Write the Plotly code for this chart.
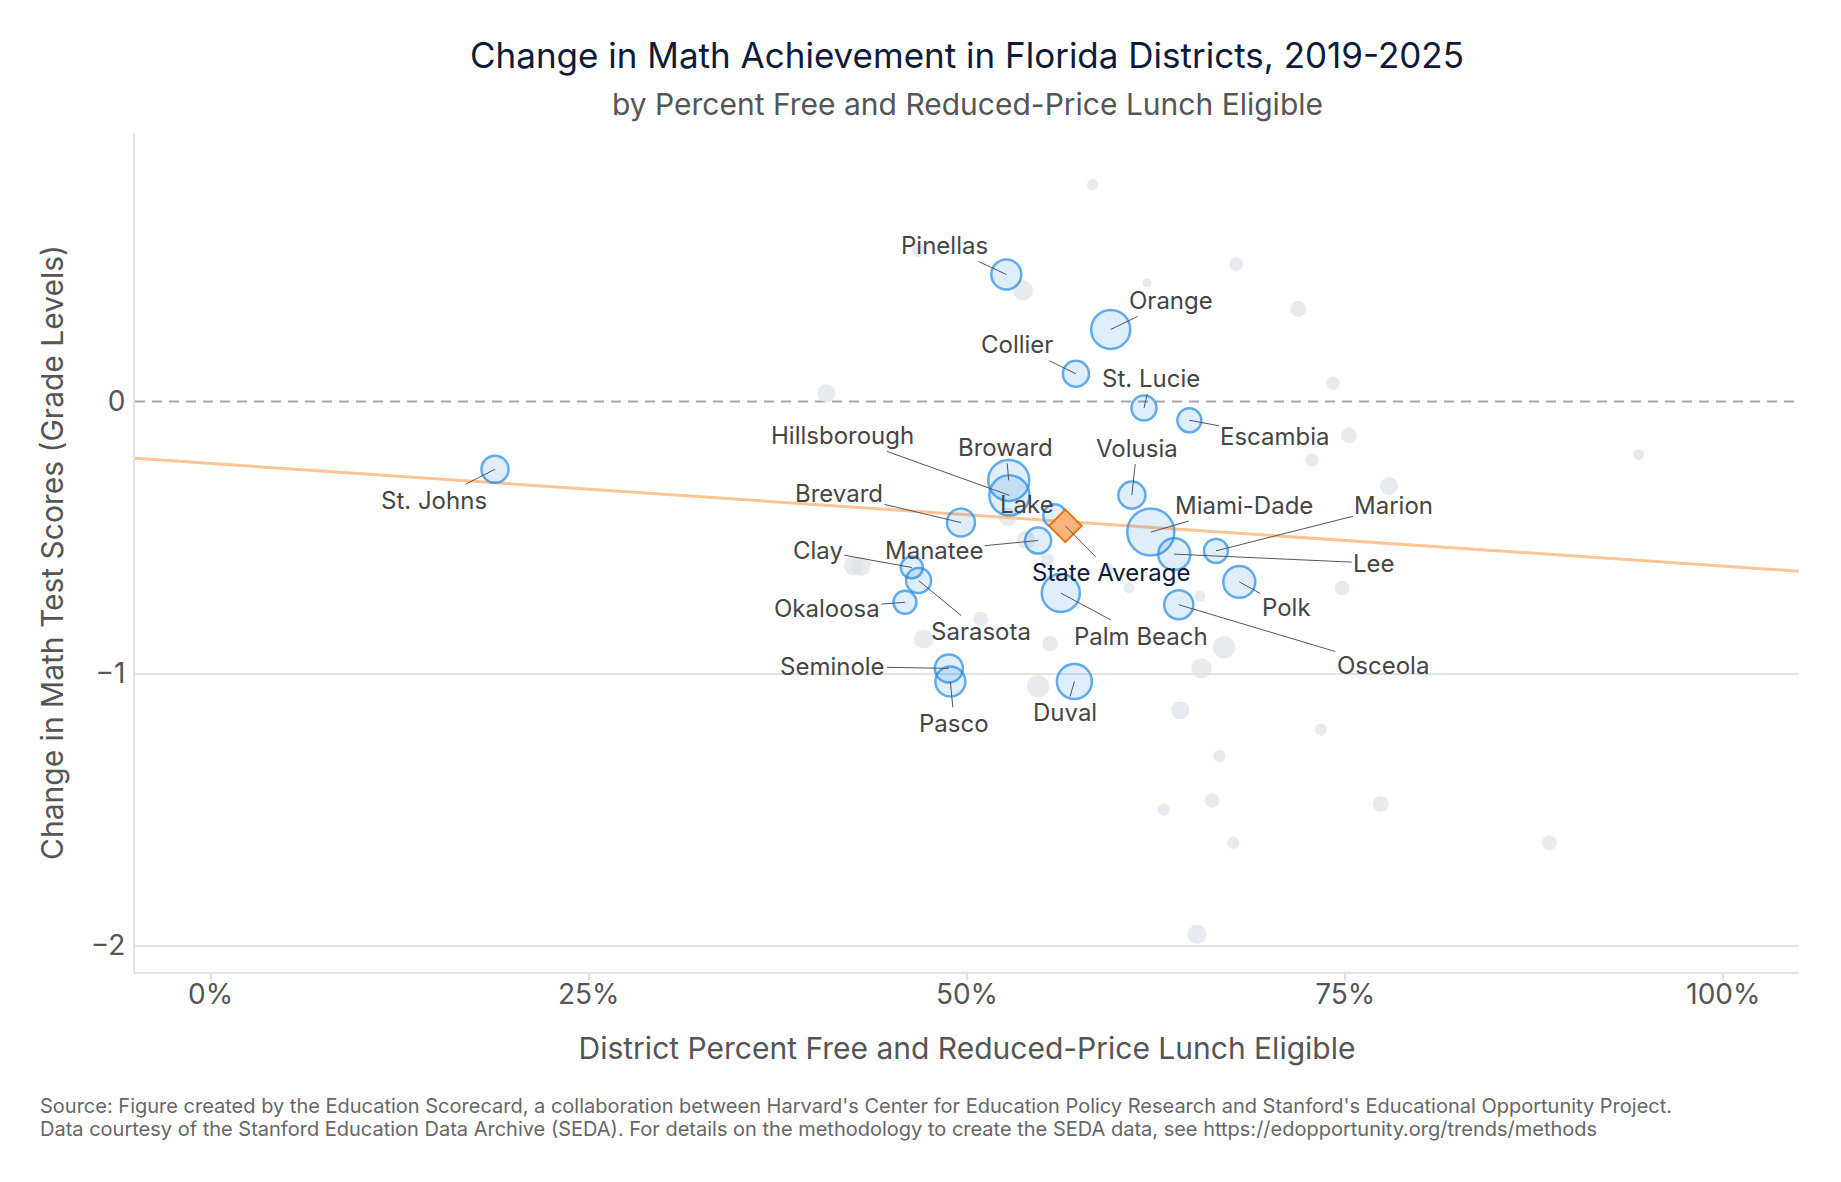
import plotly.graph_objects as go

# ---------------- data ----------------
# highlighted (labelled) districts
districts = ["Pinellas", "Orange", "Collier", "St. Lucie", "Escambia", "St. Johns",
             "Broward", "Hillsborough", "Volusia", "Brevard", "Lake", "Miami-Dade",
             "Manatee", "Lee", "Marion", "Clay", "Sarasota", "Polk", "Palm Beach",
             "Okaloosa", "Osceola", "Seminole", "Pasco", "Duval"]
frl_share = [0.526, 0.595, 0.572, 0.617, 0.647, 0.188,
             0.5276, 0.528, 0.609, 0.496, 0.558, 0.6215,
             0.547, 0.637, 0.6646, 0.4635, 0.468, 0.680, 0.562,
             0.459, 0.640, 0.488, 0.489, 0.571]
math_change = [0.467, 0.265, 0.102, -0.024, -0.069, -0.249,
               -0.290, -0.345, -0.344, -0.445, -0.420, -0.480,
               -0.511, -0.561, -0.549, -0.610, -0.658, -0.663, -0.704,
               -0.738, -0.747, -0.981, -1.029, -1.029]
enrollment = [136000, 231000, 103000, 95000, 87000, 111000,
              255000, 243000, 111000, 119000, 80000, 335000,
              103000, 155000, 87000, 73000, 95000, 155000, 219000,
              80000, 128000, 119000, 136000, 186000]

# other (unlabelled) districts
other_frl = [0.583, 0.468, 0.537, 0.619, 0.678, 0.719, 0.742, 0.407, 0.7525, 0.728,
             0.944, 0.779, 0.425, 0.430, 0.539, 0.553, 0.5925, 0.607, 0.654, 0.748,
             0.509, 0.4715, 0.555, 0.670, 0.655, 0.547, 0.641, 0.734, 0.667, 0.630,
             0.662, 0.7735, 0.676, 0.885, 0.652, 0.527]
other_change = [0.797, 0.556, 0.409, 0.436, 0.505, 0.340, 0.067, 0.030, -0.125, -0.215,
                -0.195, -0.311, -0.604, -0.606, -0.508, -0.582, -0.619, -0.684, -0.716, -0.686,
                -0.800, -0.873, -0.890, -0.904, -0.981, -1.047, -1.135, -1.206, -1.304, -1.500,
                -1.467, -1.479, -1.622, -1.622, -1.959, -0.425]
other_enrollment = [19000, 28000, 62000, 13000, 28000, 38000, 28000, 50000, 38000, 28000,
                    19000, 50000, 56000, 56000, 50000, 28000, 28000, 19000, 19000, 33000,
                    33000, 56000, 38000, 75000, 62000, 75000, 50000, 23000, 23000, 23000,
                    33000, 38000, 23000, 33000, 56000, 50000]

state_avg_name = ["State Average"]
state_avg_frl = [0.565]
state_avg_change = [-0.457]

trend_x = [-0.05, 1.05]
trend_y = [-0.209, -0.624]

x_tickvals = [0, 0.25, 0.5, 0.75, 1.0]
y_tickvals = [-2, -1, 0]
y_solid_grid = [-2, -1]
zero_ref = 0

title_text = "Change in Math Achievement in Florida Districts, 2019-2025"
subtitle_text = "by Percent Free and Reduced-Price Lunch Eligible"
x_title = "District Percent Free and Reduced-Price Lunch Eligible"
y_title = "Change in Math Test Scores (Grade Levels)"
source_line1 = ("Source: Figure created by the Education Scorecard, a collaboration between Harvard's "
                "Center for Education Policy Research and Stanford's Educational Opportunity Project.")
source_line2 = ("Data courtesy of the Stanford Education Data Archive (SEDA). For details on the "
                "methodology to create the SEDA data, see https://edopportunity.org/trends/methods")

# ---------------- styling ----------------
FONT = "Inter"
SIZEREF = 303.0
label_offsets = {
    "Pinellas": (-62, -29), "Orange": (60, -29), "Collier": (-59, -29),
    "St. Lucie": (7, -30), "Escambia": (86, 16), "St. Johns": (-61, 31),
    "Broward": (-3, -33), "Hillsborough": (-167, -60), "Volusia": (5, -47),
    "Brevard": (-122, -29), "Lake": (-28, -11), "Miami-Dade": (93, -27),
    "Manatee": (-104, 10), "Lee": (200, 9), "Marion": (178, -45),
    "Clay": (-94, -17), "Sarasota": (62, 51), "Polk": (47, 26),
    "Palm Beach": (80, 43), "Okaloosa": (-78, 6), "Osceola": (204, 61),
    "Seminole": (-116, -2), "Pasco": (4, 42), "Duval": (-9, 31),
}
state_offset = (46, 47)

fig = go.Figure()

fig.add_trace(go.Scatter(
    x=other_frl, y=other_change, mode="markers", hoverinfo="skip",
    marker=dict(size=other_enrollment, sizemode="area", sizeref=SIZEREF,
                color="#dde2e8", line=dict(width=0)),
))

fig.add_trace(go.Scatter(
    x=trend_x, y=trend_y, mode="lines", hoverinfo="skip",
    line=dict(color="#ffc495", width=3),
))

fig.add_trace(go.Scatter(
    x=frl_share, y=math_change, mode="markers", text=districts,
    marker=dict(size=enrollment, sizemode="area", sizeref=SIZEREF,
                color="rgba(30,136,229,0.2)", line=dict(color="#1e88e5", width=2.5)),
))

fig.add_trace(go.Scatter(
    x=state_avg_frl, y=state_avg_change, mode="markers", text=state_avg_name,
    marker=dict(symbol="diamond", size=25, color="#fdb47c",
                line=dict(color="#e8730c", width=2)),
))

annotations = []
for name, xv, yv in zip(districts, frl_share, math_change):
    ax, ay = label_offsets[name]
    annotations.append(dict(
        x=xv, y=yv, xref="x", yref="y", text=name, showarrow=True,
        ax=ax, ay=ay, arrowhead=0, arrowwidth=1, arrowcolor="#555555", standoff=0,
        font=dict(family=FONT, size=24, color="#454545"),
    ))
annotations.append(dict(
    x=state_avg_frl[0], y=state_avg_change[0], xref="x", yref="y", text=state_avg_name[0],
    showarrow=True, ax=state_offset[0], ay=state_offset[1], arrowhead=0, arrowwidth=1,
    arrowcolor="#555555", standoff=0,
    font=dict(family=FONT, size=24, color="#0d1a3a"),
))
# titles
annotations.append(dict(
    x=0.5, y=1, xref="paper", yref="paper", yanchor="middle", yshift=78,
    text=title_text, showarrow=False, font=dict(family=FONT, size=35, color="#0d1a3a"),
))
annotations.append(dict(
    x=0.5, y=1, xref="paper", yref="paper", yanchor="middle", yshift=29,
    text=subtitle_text, showarrow=False, font=dict(family=FONT, size=30, color="#555555"),
))
# source lines
for txt, shift in ((source_line1, -134), (source_line2, -157)):
    annotations.append(dict(
        x=-0.058, y=0, xref="paper", yref="paper", xanchor="left", yanchor="middle",
        yshift=shift, align="left", text=txt, showarrow=False,
        font=dict(family=FONT, size=20, color="#666666"),
    ))

fig.update_layout(
    width=1841, height=1182,
    margin=dict(l=135, r=42, t=133, b=210),
    paper_bgcolor="white", plot_bgcolor="white",
    showlegend=False,
    font=dict(family=FONT, color="#555555"),
    annotations=annotations,
    shapes=[dict(type="line", xref="paper", yref="y", x0=0, x1=1, y0=zero_ref, y1=zero_ref,
                 layer="below", line=dict(color="#a8a8a8", width=2, dash="10px,7px"))],
    xaxis=dict(
        range=[-0.05, 1.05], tickvals=x_tickvals, tickformat=".0%",
        showgrid=False, zeroline=False, showline=True, linecolor="#e2e2e2", linewidth=2,
        ticks="outside", ticklen=6, tickcolor="#dddddd", tickwidth=1.5,
        ticklabelstandoff=-10,
        tickfont=dict(family=FONT, size=28, color="#555555"),
        title=dict(text=x_title, standoff=28, font=dict(family=FONT, size=30, color="#555555")),
    ),
    yaxis=dict(
        range=[-2.097, 0.987], tickvals=y_tickvals,
        showgrid=False, zeroline=False,
        minor=dict(tickvals=y_solid_grid, showgrid=True, gridcolor="#e3e3e3", gridwidth=2, ticks=""),
        showline=True, linecolor="#e2e2e2", linewidth=2,
        ticks="", ticklabelstandoff=2,
        tickfont=dict(family=FONT, size=28, color="#555555"),
        title=dict(text=y_title, standoff=18, font=dict(family=FONT, size=30, color="#555555")),
    ),
)

fig.write_html("out.html")
